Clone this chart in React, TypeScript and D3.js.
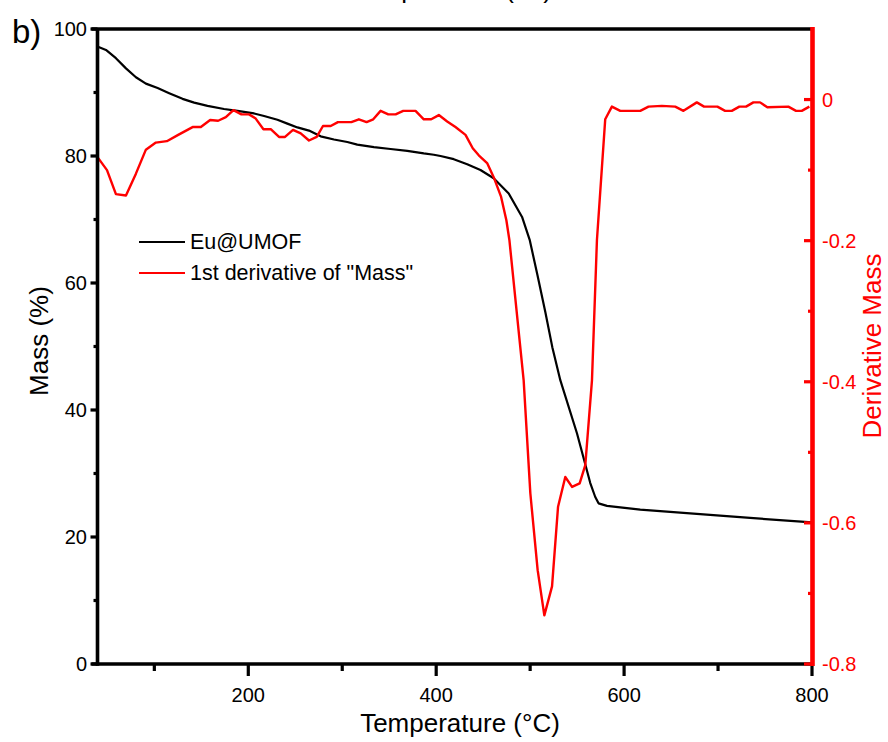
import React from 'react';
import * as d3 from 'd3';

const massT = [40, 48.5, 59.1, 69.8, 80.4, 91.0, 103.5, 115.8, 130.0, 142.4, 156.6, 174.2, 188.5, 206.1, 216.8, 231.0, 241.6, 252.3, 264.6, 277.0, 291.2, 305.4, 316.0, 333.7, 351.4, 369.2, 386.8, 397.5, 404.6, 418.7, 433.0, 447.1, 461.2, 477.2, 491.4, 499.5, 507.7, 516.2, 523.6, 532.1, 549.9, 564.0, 569.3, 572.8, 581.8, 617.2, 680.9, 734.1, 800];
const massV = [97.2, 96.7, 95.4, 93.8, 92.4, 91.4, 90.7, 89.9, 89.0, 88.4, 87.9, 87.4, 87.1, 86.7, 86.3, 85.7, 85.1, 84.5, 84.0, 83.1, 82.6, 82.2, 81.8, 81.4, 81.1, 80.8, 80.4, 80.2, 80.0, 79.5, 78.7, 77.8, 76.5, 74.1, 70.4, 66.8, 61.3, 55.4, 49.9, 44.7, 36.3, 28.5, 26.3, 25.3, 24.9, 24.3, 23.6, 23.0, 22.3];

const dtgT = [40.3, 49.6, 59.1, 69.8, 80.4, 91.0, 101.6, 113.3, 125.4, 140.7, 149.5, 159.4, 167.9, 176.1, 184.2, 192.7, 200.8, 207.9, 216.1, 223.9, 232.7, 239.1, 247.6, 255.8, 264.6, 272.8, 279.5, 287.7, 295.4, 309.7, 317.7, 325.9, 333.0, 340.8, 349.0, 356.8, 364.9, 378.0, 386.8, 394.7, 402.8, 411.7, 420.5, 431.2, 438.9, 445.3, 454.2, 461.2, 469.1, 474.7, 477.9, 493.1, 500.2, 508.0, 515.1, 523.3, 529.7, 537.4, 544.6, 552.7, 558.7, 565.8, 571.1, 579.9, 587.0, 595.9, 617.2, 626.0, 640.2, 654.4, 663.2, 677.4, 685.1, 699.3, 707.5, 714.6, 722.7, 729.8, 737.6, 744.7, 752.5, 774.8, 783.0, 789.1, 797.2];
const dtgV = [-0.083, -0.100, -0.134, -0.136, -0.105, -0.071, -0.061, -0.059, -0.050, -0.039, -0.039, -0.029, -0.030, -0.025, -0.015, -0.021, -0.021, -0.027, -0.042, -0.042, -0.053, -0.053, -0.043, -0.048, -0.058, -0.053, -0.0375, -0.0375, -0.032, -0.032, -0.028, -0.032, -0.028, -0.016, -0.021, -0.021, -0.016, -0.016, -0.028, -0.028, -0.022, -0.031, -0.039, -0.050, -0.069, -0.079, -0.090, -0.110, -0.138, -0.171, -0.199, -0.398, -0.558, -0.667, -0.731, -0.690, -0.577, -0.535, -0.549, -0.544, -0.518, -0.398, -0.199, -0.028, -0.010, -0.016, -0.016, -0.010, -0.009, -0.010, -0.016, -0.004, -0.010, -0.010, -0.016, -0.016, -0.010, -0.010, -0.004, -0.004, -0.011, -0.010, -0.016, -0.016, -0.010];

const xTicks = [200, 400, 600, 800];
const xMinor = [100, 300, 500, 700];
const yLeftTicks = [0, 20, 40, 60, 80, 100];
const yLeftMinor = [10, 30, 50, 70, 90];
const yRightTicks = [0, -0.2, -0.4, -0.6, -0.8];
const yRightMinor = [-0.1, -0.3, -0.5, -0.7];
const seriesNames = ['Eu@UMOF', '1st derivative of "Mass"'];
const xTitle = 'Temperature (°C)';
const yLeftTitle = 'Mass (%)';
const yRightTitle = 'Derivative Mass';
const panelLabel = 'b)';

const FONT = '"Liberation Sans", Arial, Helvetica, sans-serif';
const RED = '#ff0000';

export default function App() {
  const x = d3.scaleLinear().domain([39.5, 800]).range([97.5, 812]);
  const yL = d3.scaleLinear().domain([0, 100]).range([664, 29]);
  const yR = d3.scaleLinear().domain([-0.8, 0.1]).range([664, 29]);

  const massData = massT.map((t, i) => [t, massV[i]] as [number, number]);
  const dtgData = dtgT.map((t, i) => [t, dtgV[i]] as [number, number]);

  const massLine = d3.line<[number, number]>().x(d => x(d[0])).y(d => yL(d[1]))(massData) || '';
  const dtgLine = d3.line<[number, number]>().x(d => x(d[0])).y(d => yR(d[1]))(dtgData) || '';

  const [x0, x1] = x.range();
  const yTop = yL(100);
  const yBot = yL(0);

  return (
    <svg width={888} height={742} style={{ position: 'absolute', left: 0, top: 0, background: '#fff' }} fontFamily={FONT}>
      <rect x={0} y={0} width={888} height={742} fill="#fff" />
      {/* title of the panel above, cut off at the top edge as in the reference */}
      <text x={452} y={-2} textAnchor="middle" fontSize={26} fill="#000">{xTitle}</text>

      <text x={12} y={43} fontSize={33} fill="#000">{panelLabel}</text>

      {/* data */}
      <path d={massLine} fill="none" stroke="#000" strokeWidth={2.2} strokeLinejoin="round" />
      <path d={dtgLine} fill="none" stroke={RED} strokeWidth={2.4} strokeLinejoin="round" />

      {/* spines */}
      <line x1={x0 - 6} x2={x1} y1={yTop} y2={yTop} stroke="#000" strokeWidth={3.4} />
      <line x1={x0} x2={x0} y1={yTop} y2={yBot + 1.7} stroke="#000" strokeWidth={3.6} />
      <line x1={x0 - 6} x2={x1} y1={yBot} y2={yBot} stroke="#000" strokeWidth={3.6} />

      {/* bottom ticks */}
      {xTicks.map(t => (
        <g key={'xt' + t}>
          <line x1={x(t)} x2={x(t)} y1={yBot} y2={yBot + 12} stroke="#000" strokeWidth={3.2} />
          <text x={x(t)} y={702} textAnchor="middle" fontSize={20} fill="#000">{t}</text>
        </g>
      ))}
      {xMinor.map(t => (
        <line key={'xm' + t} x1={x(t)} x2={x(t)} y1={yBot} y2={yBot + 7} stroke="#000" strokeWidth={3.2} />
      ))}

      {/* left ticks */}
      {yLeftTicks.map(v => (
        <g key={'yl' + v}>
          <line x1={x0 - 7} x2={x0} y1={yL(v)} y2={yL(v)} stroke="#000" strokeWidth={3.2} />
          <text x={87} y={yL(v)} dy="0.36em" textAnchor="end" fontSize={20} fill="#000">{v}</text>
        </g>
      ))}
      {yLeftMinor.map(v => (
        <line key={'ylm' + v} x1={x0 - 4} x2={x0} y1={yL(v)} y2={yL(v)} stroke="#000" strokeWidth={3.2} />
      ))}

      {/* right axis */}
      <line x1={812.5} x2={812.5} y1={27} y2={666} stroke={RED} strokeWidth={4.6} />
      {yRightTicks.map(v => (
        <g key={'yr' + v}>
          <line x1={804} x2={812} y1={yR(v)} y2={yR(v)} stroke={RED} strokeWidth={3.2} />
          <text x={822} y={yR(v)} dy="0.36em" fontSize={20} fill={RED}>{String(v)}</text>
        </g>
      ))}
      {yRightMinor.map(v => (
        <line key={'yrm' + v} x1={808} x2={812} y1={yR(v)} y2={yR(v)} stroke={RED} strokeWidth={3.2} />
      ))}

      {/* axis titles */}
      <text x={460} y={732} textAnchor="middle" fontSize={26} fill="#000">{xTitle}</text>
      <text transform={`translate(48,341) rotate(-90)`} textAnchor="middle" fontSize={26} fill="#000">{yLeftTitle}</text>
      <text transform={`translate(881,346) rotate(-90)`} textAnchor="middle" fontSize={26} fill={RED}>{yRightTitle}</text>

      {/* legend */}
      <line x1={139} x2={185} y1={242} y2={242} stroke="#000" strokeWidth={1.8} />
      <text x={190} y={249} fontSize={21.5} fill="#000">{seriesNames[0]}</text>
      <line x1={139} x2={185} y1={273} y2={273} stroke={RED} strokeWidth={1.8} />
      <text x={190} y={280} fontSize={21.5} fill="#000">{seriesNames[1]}</text>
    </svg>
  );
}
